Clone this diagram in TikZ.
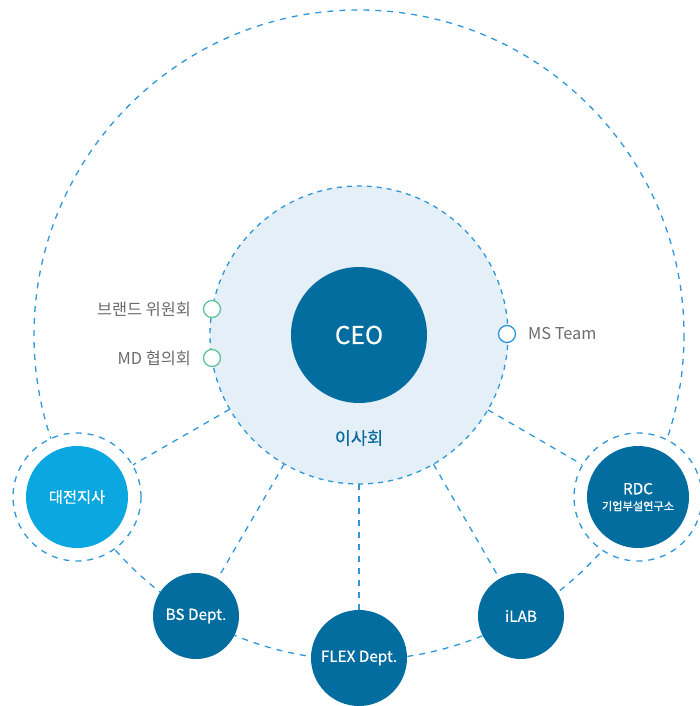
\documentclass[tikz,border=0pt]{standalone}
\usepackage{fontspec}
\setmainfont{Noto Sans CJK KR}
\newfontfamily\krfont{Noto Sans CJK KR}
\newfontfamily\krmed{Noto Sans CJK KR}[FakeBold=0.4]
\definecolor{dashblue}{HTML}{2E97D8}
\definecolor{nodeblue}{HTML}{046D9F}
\definecolor{cyanblue}{HTML}{0AA7E1}
\definecolor{lightfill}{HTML}{E4EFF8}
\definecolor{greenring}{HTML}{62C39B}
\definecolor{graytext}{HTML}{6B6B6B}
\definecolor{boardtext}{HTML}{0B6A9C}
\begin{document}
\begin{tikzpicture}[x=1pt,y=-1pt,
  dashline/.style={draw=dashblue,line width=1.3pt,dash pattern=on 6pt off 6pt},
  orgnode/.style={circle,fill=nodeblue,text=white,inner sep=0pt,font=\krmed\fontsize{15.3}{17}\selectfont,align=center},
  ringnode/.style={circle,fill=white,draw=dashblue,line width=1.3pt,dash pattern=on 6pt off 6pt,inner sep=0pt,minimum size=128pt},
  smallring/.style={circle,fill=white,line width=1.3pt,inner sep=0pt,minimum size=17pt},
  sidelabel/.style={text=graytext,font=\krfont\fontsize{16.3}{18}\selectfont,inner sep=0pt}]
\useasboundingbox (0,0) rectangle (700,706);
% outer dashed circle
\coordinate (c) at (359,335);
\draw[dashline] (c) circle[radius=325];
% connector endpoints
\node[circle,minimum size=298pt,inner sep=0pt] (board) at (c) {};
% rings around daejeon and RDC
\node[ringnode] (djring) at (77,497) {};
\node[ringnode] (rdcring) at (638,497) {};
% nodes
\node[orgnode,fill=cyanblue,minimum size=102pt] (dj) at (77,497) {대전지사};
\node[orgnode,minimum size=102pt] (rdc) at (638,497) {RDC\\[-1pt]{\fontsize{11.2}{13}\selectfont 기업부설연구소}};
\node[orgnode,minimum size=86pt] (bs) at (196,616) {BS Dept.};
\node[orgnode,minimum size=96pt] (flex) at (359,658) {FLEX Dept.};
\node[orgnode,minimum size=86pt] (ilab) at (521,616) {iLAB};
% board circle
\fill[lightfill] (c) circle[radius=149];
\draw[draw=dashblue,line width=1.3pt,dash pattern=on 5pt off 5pt] (c) circle[radius=149];
% CEO
\node[orgnode,minimum size=136pt,font=\krmed\fontsize{24.5}{28}\selectfont] (ceo) at (c) {CEO};
\node[text=boardtext,font=\krmed\fontsize{17.5}{19}\selectfont] (boardlabel) at (359,438) {이사회};
% radial connectors
\draw[dashline] (board) -- (djring);
\draw[dashline] (board) -- (rdcring);
\draw[dashline] (board) -- (bs);
\draw[dashline] (board) -- (flex);
\draw[dashline] (board) -- (ilab);
% small rings
\node[smallring,draw=greenring] (brand) at (212,309) {};
\node[smallring,draw=greenring] (md) at (212,358) {};
\node[smallring,draw=dashblue] (ms) at (507,334) {};
\node[sidelabel,anchor=east] (brandlabel) at (191,309) {브랜드 위원회};
\node[sidelabel,anchor=east] (mdlabel) at (191,358) {MD 협의회};
\node[sidelabel,anchor=west] (mslabel) at (528,334) {MS Team};
\end{tikzpicture}
\end{document}
